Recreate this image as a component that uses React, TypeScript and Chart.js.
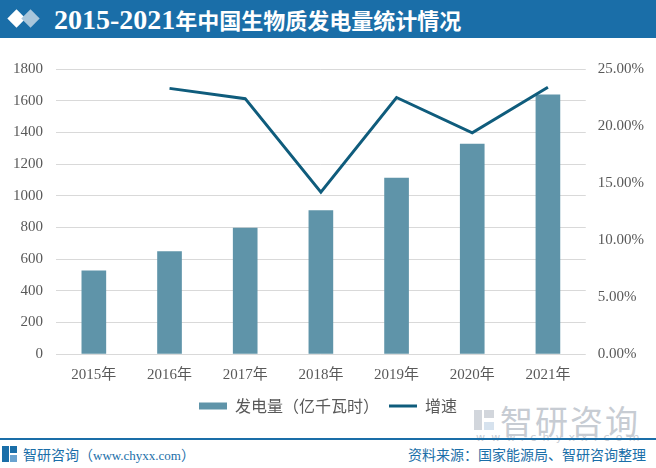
import React, { useEffect, useRef } from "react";
import { Chart, registerables } from "chart.js";

Chart.register(...registerables);

const categories = ["2015年", "2016年", "2017年", "2018年", "2019年", "2020年", "2021年"];
const generation = [525, 647, 795, 906, 1111, 1326, 1637];
const growth = [null, 23.3, 22.4, 14.2, 22.5, 19.4, 23.4];
const barLabel = "发电量（亿千瓦时）";
const lineLabel = "增速";
const titleNum = "2015-2021";
const titleText = "年中国生物质发电量统计情况";

export default function App() {
  const ref = useRef<HTMLCanvasElement | null>(null);
  useEffect(() => {
    if (!ref.current) return;
    const tickFont = { family: "'Liberation Serif', 'Noto Sans CJK SC', serif", size: 15 };
    const chart = new Chart(ref.current, {
      type: "bar",
      data: {
        labels: categories,
        datasets: [
          {
            type: "line",
            label: lineLabel,
            data: growth as any,
            yAxisID: "y1",
            borderColor: "#0f5c7c",
            backgroundColor: "#0f5c7c",
            borderWidth: 3,
            pointRadius: 0,
            pointStyle: "line",
            tension: 0,
            order: 0,
          } as any,
          {
            type: "bar",
            label: barLabel,
            data: generation,
            yAxisID: "y",
            backgroundColor: "#5f94a9",
            borderWidth: 0,
            pointStyle: "rect",
            barThickness: 24,
            order: 1,
          } as any,
        ],
      },
      options: {
        animation: false,
        responsive: false,
        maintainAspectRatio: false,
        layout: { padding: { left: 0, right: 0, top: 29, bottom: 0 } },
        plugins: {
          legend: {
            position: "bottom",
            reverse: true,
            labels: {
              usePointStyle: true,
              pointStyleWidth: 28,
              boxHeight: 7,
              color: "#595959",
              font: { family: "'Noto Sans CJK SC', sans-serif", size: 16 },
              padding: 10,
            },
          },
          tooltip: { enabled: false },
        },
        scales: {
          x: {
            grid: { display: false },
            border: { display: false },
            ticks: { color: "#595959", font: tickFont, padding: 4 },
          },
          y: {
            position: "left",
            min: 0,
            max: 1800,
            ticks: {
              stepSize: 200,
              color: "#595959",
              font: tickFont,
              padding: 13,
              callback: (v: any) => String(v),
            },
            grid: { color: "#d9d9d9", drawTicks: false },
            border: { display: false },
          },
          y1: {
            position: "right",
            min: 0,
            max: 25,
            ticks: {
              stepSize: 5,
              color: "#595959",
              font: tickFont,
              padding: 12,
              callback: (v: any) => Number(v).toFixed(2) + "%",
            },
            grid: { display: false, drawTicks: false },
            border: { display: false },
          },
        },
      },
    });
    return () => chart.destroy();
  }, []);

  const wm = "#c7ccd3";
  return (
    <div style={{ position: "fixed", left: 0, top: 0, width: 656, height: 468, background: "#fff", overflow: "hidden" }}>
      <div style={{ position: "absolute", left: 0, top: 0, width: 656, height: 38, background: "#1a6ea8" }}>
        <div style={{ position: "absolute", left: 10, top: 12, width: 13, height: 13, background: "#fff", transform: "rotate(45deg)" }} />
        <div style={{ position: "absolute", left: 24, top: 12, width: 13, height: 13, background: "#a9c6db", transform: "rotate(45deg)" }} />
        <div style={{ position: "absolute", left: 54, top: 3, color: "#fff", whiteSpace: "nowrap", lineHeight: "32px" }}>
          <span style={{ fontSize: 28, fontFamily: "'Liberation Serif', serif", fontWeight: "bold" }}>{titleNum}</span>
          <span style={{ fontSize: 22, fontFamily: "'Noto Sans CJK SC', sans-serif", fontWeight: "bold" }}>{titleText}</span>
        </div>
      </div>
      <div style={{ position: "absolute", left: 474, top: 410, width: 8, height: 20, background: wm, opacity: 0.8 }} />
      <div style={{ position: "absolute", left: 484, top: 410, width: 10, height: 8, background: wm, opacity: 0.8 }} />
      <div style={{ position: "absolute", left: 484, top: 422, width: 10, height: 8, background: "#d6e2ee" }} />
      <div style={{ position: "absolute", left: 500, top: 402, color: wm, fontSize: 33, fontFamily: "'Noto Sans CJK SC', sans-serif", whiteSpace: "nowrap", lineHeight: "36px", letterSpacing: 2 }}>
        智研咨询
      </div>
      <div style={{ position: "absolute", left: 0, top: 40, width: 656, height: 384 }}>
        <canvas ref={ref} width={656} height={384} style={{ width: 656, height: 384 }} />
      </div>
      <div style={{ position: "absolute", left: 476, top: 431, color: wm, fontSize: 11, fontFamily: "'DejaVu Sans', sans-serif", whiteSpace: "nowrap", letterSpacing: 6.2 }}>
        www.chyxx.com
      </div>
      <div style={{ position: "absolute", left: 0, top: 438, width: 656, height: 2, background: "#1a6ea8" }} />
      <div style={{ position: "absolute", left: 2, top: 446, width: 7, height: 16, background: "#1a6ea8" }} />
      <div style={{ position: "absolute", left: 10, top: 446, width: 7, height: 7, background: "#1a6ea8" }} />
      <div style={{ position: "absolute", left: 10, top: 455, width: 7, height: 7, background: "#6aa3d0" }} />
      <div style={{ position: "absolute", left: 23, top: 444, color: "#1a6ea8", fontSize: 14, whiteSpace: "nowrap", lineHeight: "20px" }}>
        <span style={{ fontFamily: "'Noto Sans CJK SC', sans-serif" }}>智研咨询（</span>
        <span style={{ fontFamily: "'Liberation Serif', serif", fontSize: 13 }}>www.chyxx.com</span>
        <span style={{ fontFamily: "'Noto Sans CJK SC', sans-serif" }}>）</span>
      </div>
      <div style={{ position: "absolute", right: 10, top: 444, color: "#1a6ea8", fontSize: 14, fontFamily: "'Noto Sans CJK SC', sans-serif", whiteSpace: "nowrap", lineHeight: "20px" }}>
        资料来源：国家能源局、智研咨询整理
      </div>
    </div>
  );
}
